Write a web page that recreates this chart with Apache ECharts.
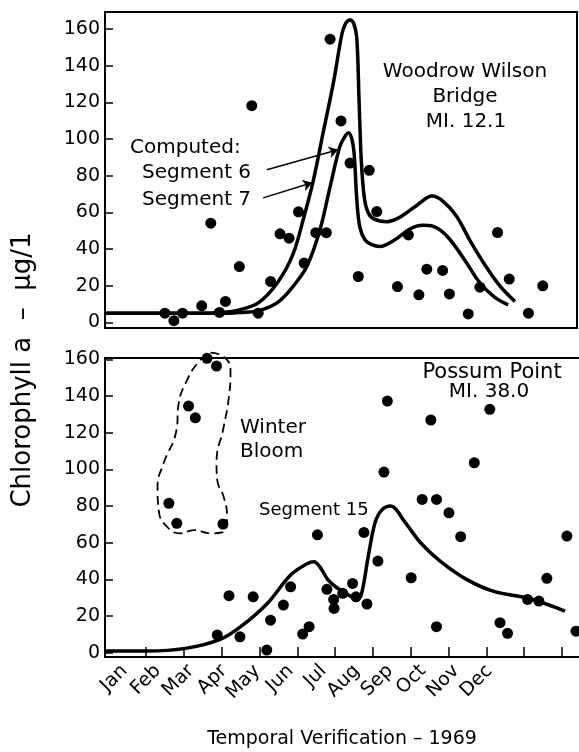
<!DOCTYPE html>
<html>
<head>
<meta charset="utf-8">
<script src="https://cdn.jsdelivr.net/npm/echarts@6/dist/echarts.min.js"></script>
<style>
html,body{margin:0;padding:0;background:#fff;}
#chart{width:579px;height:752px;}
</style>
</head>
<body>
<div id="chart"></div>
<script>
// ---- tick labels / categories ----
const months = ['Jan','Feb','Mar','Apr','May','Jun','Jul','Aug','Sep','Oct','Nov','Dec'];
const monthBounds = [1,2,3,4,5,6,7,8,9,10,11,12];
const yTicks = [0,20,40,60,80,100,120,140,160];

// ---- Woodrow Wilson Bridge (top) observations: x in months from Jan 1 ----
const wwObsX = [1.50,1.74,1.97,2.48,2.72,2.95,3.11,3.48,3.81,3.98,4.31,4.56,4.80,5.05,5.20,5.51,5.79,5.89,6.18,6.42,6.64,6.93,7.13,7.68,7.97,8.25,8.46,8.88,9.06,9.56,9.87,10.34,10.65,11.16,11.54];
const wwObsY = [5.1,1,5.1,9.1,54.2,5.5,11.5,30.5,118.3,5.1,22.4,48.4,46,60.4,32.4,49,49,154.6,110,87,25.1,83,60.5,19.6,47.8,15.1,29.1,28.4,15.6,4.7,19.3,49.1,23.7,5.1,20];

// ---- computed, Segment 6 (lower peak) ----
const seg6X = [-0.09,1,2,3,3.5,4,4.5,4.9,5.27,5.62,5.89,6.15,6.3,6.38,6.47,6.53,6.6,6.68,6.82,7.0,7.21,7.6,8.01,8.35,8.62,8.9,9.16,9.5,9.87,10.25,10.62];
const seg6Y = [5,5,5,5,5.5,6.5,11,19.5,30.5,50.5,74,96,102,103.5,100,92,67,52,45,42.5,41.5,45,51,53,52.5,49,43,33,21.6,14,9.6];

// ---- computed, Segment 7 (higher peak) ----
const seg7X = [-0.09,1,2,3,3.5,4,4.5,4.9,5.2,5.45,5.7,5.98,6.2,6.3,6.42,6.52,6.6,6.66,6.72,6.8,6.9,7.05,7.4,7.75,8.2,8.6,8.9,9.25,9.6,10.05,10.4,10.8];
const seg7Y = [5,5,5,5.5,7,11,22,37,58,78,103,131,157,163,165,163,155,121,88,68,60,56.5,55,57.5,64,69,66,58,45,30,20,11.5];

// ---- Possum Point (bottom) observations ----
const ppObsX = [2.61,2.86,2.12,2.30,1.60,1.81,3.03,5.53,3.19,3.83,4.82,4.63,4.29,2.88,3.48,4.19,5.14,5.31,5.78,5.96,5.97,6.20,6.46,6.55,6.84,6.76,7.13,7.29,7.38,8.01,8.30,8.68,8.53,8.68,9.01,9.32,9.68,10.09,10.36,10.56,11.09,11.39,11.60,12.13,12.37];
const ppObsY = [160.5,156.3,134.5,128.1,81.5,70.6,70.2,64.3,31.1,30.5,36,26,17.8,9.7,8.7,1.5,10.2,14.2,34.6,29.1,24.2,32.4,37.8,30.5,26.6,65.6,50,98.5,137.2,40.9,83.6,83.6,126.9,14.2,76.3,63.3,103.6,132.7,16.4,10.6,29.1,28.2,40.6,63.6,11.8];

// ---- computed, Segment 15 ----
const seg15X = [-0.09,1,2.04,2.96,3.5,4.21,4.82,5.27,5.44,5.62,5.8,6.01,6.28,6.55,6.68,6.87,7.05,7.23,7.47,7.84,8.27,8.8,9.51,10.22,11.11,12.08];
const seg15Y = [1,1,2.4,7.3,14.2,27,42.4,48.7,49.6,46,40,36,32.4,29.7,31,52,70.6,77.8,80,71.4,59.7,49.6,39.6,33.3,29.7,22.7];

// ---- "Winter Bloom" dashed outline ----
const bloomX = [2.70,3.05,3.23,3.19,3.05,2.86,2.88,3.05,3.14,3.01,2.70,2.26,1.90,1.55,1.33,1.30,1.46,1.80,1.86,2.04,2.39,2.70];
const bloomY = [163.6,161.4,154,139.6,123.2,103.3,94.2,85,74.2,65.6,65.1,66.9,65.1,68.7,77.8,90.5,103.3,121.4,136,146.9,158.7,163.6];

// ---- annotation arrows (data coords) ----
const arrow6 = [[4.21,83.3],[6.10,94.2]];
const arrow7 = [[4.11,68],[5.41,76.2]];

const zip = (xs, ys) => xs.map((x, i) => [x, ys[i]]);
const FONT = '"DejaVu Sans", "Liberation Sans", sans-serif';
const X_MIN = -0.09, X_MAX = 12.45;

const chart = echarts.init(document.getElementById('chart'), null, {renderer: 'canvas'});

const lineStyleCurve = {color: '#000', width: 3.5};
const dotStyle = {color: '#000', opacity: 1};
const txt = (x, y, text, size, align) => ({
  type: 'text', x: x, y: y,
  style: {text: text, font: size + 'px ' + FONT, fill: '#000',
          align: align || 'left', textAlign: align || 'left',
          verticalAlign: 'middle', textVerticalAlign: 'middle'}
});

chart.setOption({
  animation: false,
  backgroundColor: '#fff',
  grid: [
    {left: 105, top: 12, width: 472, height: 316, show: true, borderColor: '#000', borderWidth: 2, backgroundColor: 'transparent'},
    {left: 105, top: 358, width: 474, height: 299},
    {left: 108, top: 358, width: 398, height: 299}
  ],
  xAxis: [
    {gridIndex: 0, type: 'value', min: X_MIN, max: X_MAX,
     axisLine: {show: true, onZero: false, lineStyle: {color: '#000', width: 2}},
     axisTick: {show: false}, axisLabel: {show: false}, splitLine: {show: false}},
    {gridIndex: 1, type: 'value', min: X_MIN, max: X_MAX, position: 'bottom',
     axisLine: {show: true, onZero: false, lineStyle: {color: '#000', width: 2}},
     axisTick: {show: true, inside: true, length: 10, customValues: monthBounds, lineStyle: {color: '#000', width: 1.5}},
     axisLabel: {show: false}, splitLine: {show: false}},
    {gridIndex: 1, type: 'value', min: X_MIN, max: X_MAX, position: 'top',
     axisLine: {show: true, onZero: false, lineStyle: {color: '#000', width: 2}},
     axisTick: {show: false}, axisLabel: {show: false}, splitLine: {show: false}},
    {gridIndex: 2, type: 'category', data: months, boundaryGap: true, position: 'bottom',
     axisLine: {show: false}, axisTick: {show: false}, splitLine: {show: false},
     axisLabel: {show: true, interval: 0, rotate: 45, margin: 11, color: '#000', fontSize: 19, fontFamily: FONT}}
  ],
  yAxis: [
    {gridIndex: 0, type: 'value', min: -3, max: 169.4,
     axisLine: {show: true, onZero: false, lineStyle: {color: '#000', width: 2}},
     axisTick: {show: true, inside: true, length: 8, customValues: yTicks, lineStyle: {color: '#000', width: 1.5}},
     axisLabel: {show: true, customValues: yTicks, margin: 5, color: '#000', fontSize: 19, fontFamily: FONT},
     splitLine: {show: false}},
    {gridIndex: 1, type: 'value', min: -2.3, max: 160.7,
     axisLine: {show: true, onZero: false, lineStyle: {color: '#000', width: 2}},
     axisTick: {show: true, inside: true, length: 8, customValues: yTicks, lineStyle: {color: '#000', width: 1.5}},
     axisLabel: {show: true, customValues: yTicks, margin: 5, color: '#000', fontSize: 19, fontFamily: FONT},
     splitLine: {show: false}},
    {gridIndex: 2, type: 'value', show: false, min: 0, max: 1}
  ],
  series: [
    {name: 'Segment 6', type: 'line', xAxisIndex: 0, yAxisIndex: 0, data: zip(seg6X, seg6Y),
     showSymbol: false, smooth: 0.35, lineStyle: lineStyleCurve, z: 3,
     markLine: {silent: true, symbol: ['none', 'arrow'], symbolSize: 9,
       lineStyle: {color: '#000', width: 1.5, type: 'solid'}, label: {show: false},
       data: [
         [{coord: arrow6[0]}, {coord: arrow6[1]}],
         [{coord: arrow7[0]}, {coord: arrow7[1]}]
       ]}},
    {name: 'Segment 7', type: 'line', xAxisIndex: 0, yAxisIndex: 0, data: zip(seg7X, seg7Y),
     showSymbol: false, smooth: 0.35, lineStyle: lineStyleCurve, z: 3},
    {name: 'Observed WW', type: 'scatter', xAxisIndex: 0, yAxisIndex: 0, data: zip(wwObsX, wwObsY),
     symbolSize: 11, itemStyle: dotStyle, z: 4, clip: false},
    {name: 'Segment 15', type: 'line', xAxisIndex: 1, yAxisIndex: 1, data: zip(seg15X, seg15Y),
     showSymbol: false, smooth: 0.35, lineStyle: lineStyleCurve, z: 3},
    {name: 'Winter Bloom', type: 'line', xAxisIndex: 1, yAxisIndex: 1, data: zip(bloomX, bloomY),
     showSymbol: false, smooth: 0.5, clip: false,
     lineStyle: {color: '#000', width: 1.8, type: [9, 5]}, z: 2},
    {name: 'Observed PP', type: 'scatter', xAxisIndex: 1, yAxisIndex: 1, data: zip(ppObsX, ppObsY),
     symbolSize: 11, itemStyle: dotStyle, z: 4, clip: false}
  ],
  graphic: [
    txt(465, 72, 'Woodrow Wilson', 20, 'center'),
    txt(465, 97, 'Bridge', 20, 'center'),
    txt(466, 122, 'MI. 12.1', 20, 'center'),
    txt(130, 148, 'Computed:', 20),
    txt(142, 173, 'Segment 6', 20),
    txt(142, 200, 'Segment 7', 20),
    txt(240, 428, 'Winter', 20),
    txt(240, 452, 'Bloom', 20),
    txt(259, 510, 'Segment 15', 18),
    txt(492, 373, 'Possum Point', 21, 'center'),
    txt(489, 392, 'MI. 38.0', 20, 'center'),
    txt(342, 739, 'Temporal Verification – 1969', 19, 'center'),
    {type: 'text', x: 23, y: 370, rotation: Math.PI / 2,
     style: {text: 'Chlorophyll a  –  μg/1', font: '26px ' + FONT, fill: '#000',
             align: 'center', textAlign: 'center', verticalAlign: 'middle', textVerticalAlign: 'middle'}}
  ]
});
</script>
</body>
</html>
